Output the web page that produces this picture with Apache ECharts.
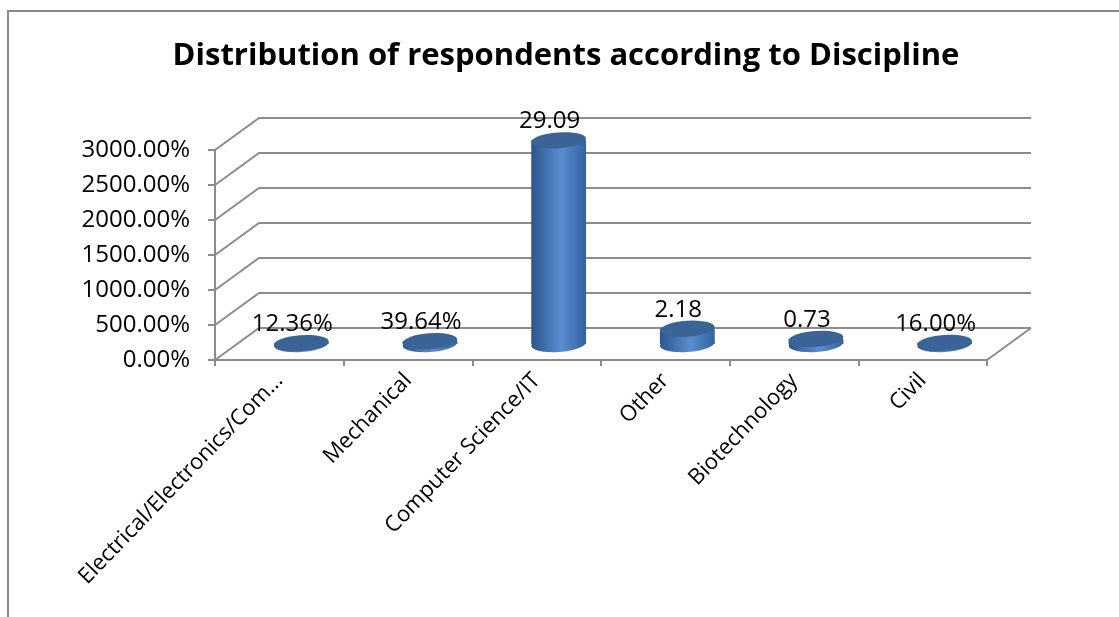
<!DOCTYPE html>
<html>
<head>
<meta charset="utf-8">
<script src="https://cdn.jsdelivr.net/npm/echarts@6/dist/echarts.min.js"></script>
<style>
  html, body { margin: 0; padding: 0; background: #ffffff; }
  #chart { width: 1119px; height: 617px; }
</style>
</head>
<body>
<div id="chart"></div>
<script>
// Survey data: share of respondents by discipline
const categories = ['Electrical/Electronics/Com...', 'Mechanical', 'Computer Science/IT', 'Other', 'Biotechnology', 'Civil'];
const values = [0.1236, 0.3964, 29.09, 2.18, 0.73, 0.16];
// How each data label is written: as a percentage or as a plain number
const labelFormats = ['percent', 'percent', 'number', 'number', 'number', 'percent'];
// Value-axis ticks (drawn as percentages)
const yTicks = [0, 5, 10, 15, 20, 25, 30];

const FONT = '"Open Sans", "DejaVu Sans", sans-serif';
const GRID_COLOR = '#8c8c8c';
// Oblique depth of the 3D box, in pixels
const DEPTH_X = 44;
const DEPTH_Y = -32;
const TILT = 0.07;

function formatPercent(v) {
  return (v * 100).toFixed(2) + '%';
}
function formatLabel(v, kind) {
  return kind === 'percent' ? formatPercent(v) : v.toFixed(2);
}

const chart = echarts.init(document.getElementById('chart'), null, { renderer: 'canvas' });

// Back wall / side wall gridlines of the 3D box
function renderWalls(params, api) {
  const v = api.value(1);
  const cs = params.coordSys;
  const y = api.coord([0, v])[1];
  const x0 = cs.x;
  const x1 = cs.x + cs.width;
  const children = [{
    type: 'polyline',
    shape: { points: [[x0, y], [x0 + DEPTH_X, y + DEPTH_Y], [x1 + DEPTH_X, y + DEPTH_Y]] },
    style: { stroke: GRID_COLOR, lineWidth: 2, fill: null }
  }];
  if (v === 0) {
    children.push({
      type: 'line',
      shape: { x1: x1, y1: y, x2: x1 + DEPTH_X, y2: y + DEPTH_Y },
      style: { stroke: GRID_COLOR, lineWidth: 2 }
    });
  }
  return { type: 'group', children: children };
}

// Cylinders standing in the middle of the box depth
function renderCylinder(params, api) {
  const i = api.value(0);
  const v = api.value(1);
  const base = api.coord([i, 0]);
  const top = api.coord([i, v]);
  const band = api.size([1, 0])[0];
  const rx = band * 0.213;
  const ry = 8;
  const cx = base[0] + DEPTH_X / 2;
  const by = base[1] + DEPTH_Y / 2;
  const ty = top[1] + DEPTH_Y / 2;
  const bodyFill = new echarts.graphic.LinearGradient(0, 0, 1, 0, [
    { offset: 0, color: '#2c558d' },
    { offset: 0.55, color: '#5a8ed0' },
    { offset: 1, color: '#3462a0' }
  ]);
  return {
    type: 'group',
    children: [
      {
        type: 'circle', shape: { cx: 0, cy: 0, r: rx },
        x: cx, y: by, scaleY: ry / rx, rotation: TILT,
        style: { fill: bodyFill }
      },
      {
        type: 'rect', shape: { x: cx - rx, y: ty, width: rx * 2, height: Math.max(0, by - ty) },
        style: { fill: bodyFill }
      },
      {
        type: 'circle', shape: { cx: 0, cy: 0, r: rx },
        x: cx, y: ty, scaleY: ry / rx, rotation: TILT,
        style: { fill: '#3a6396' }
      },
      {
        type: 'text', x: cx - 9, y: ty - 19,
        style: {
          text: formatLabel(v, labelFormats[i]),
          font: '24px ' + FONT,
          fill: '#000000',
          align: 'center',
          verticalAlign: 'middle'
        }
      }
    ]
  };
}

const option = {
  backgroundColor: '#ffffff',
  animation: false,
  title: {
    text: 'Distribution of respondents according to Discipline',
    left: 561,
    textAlign: 'center',
    top: 36,
    textStyle: { fontFamily: FONT, fontWeight: 'bold', fontSize: 31, color: '#000000' }
  },
  graphic: [{
    type: 'polyline',
    shape: { points: [[8, 617], [8, 11], [1119, 11]] },
    style: { stroke: '#898989', lineWidth: 2, fill: null },
    silent: true
  }],
  grid: { left: 215, right: 132, top: 150, bottom: 257 },
  xAxis: {
    type: 'category',
    data: categories,
    axisLine: { show: true, lineStyle: { color: GRID_COLOR, width: 2 } },
    axisTick: { show: true, length: 6, lineStyle: { color: GRID_COLOR, width: 2 } },
    axisLabel: { rotate: 46, margin: 17, fontFamily: FONT, fontSize: 22, color: '#000000', interval: 0 },
    splitLine: { show: false }
  },
  yAxis: {
    type: 'value',
    min: 0,
    max: 30,
    interval: 5,
    axisLine: { show: true, lineStyle: { color: GRID_COLOR, width: 2 } },
    axisTick: { show: true, length: 7, lineStyle: { color: GRID_COLOR, width: 2 } },
    axisLabel: { margin: 25, fontFamily: FONT, fontSize: 24, color: '#000000', formatter: formatPercent },
    splitLine: { show: false }
  },
  series: [
    {
      type: 'custom',
      name: 'walls',
      silent: true,
      z: 1,
      renderItem: renderWalls,
      data: yTicks.map(function (t) { return [0, t]; })
    },
    {
      type: 'custom',
      name: 'Discipline',
      z: 5,
      renderItem: renderCylinder,
      data: values.map(function (v, i) { return [i, v]; })
    }
  ]
};

chart.setOption(option);
</script>
</body>
</html>
